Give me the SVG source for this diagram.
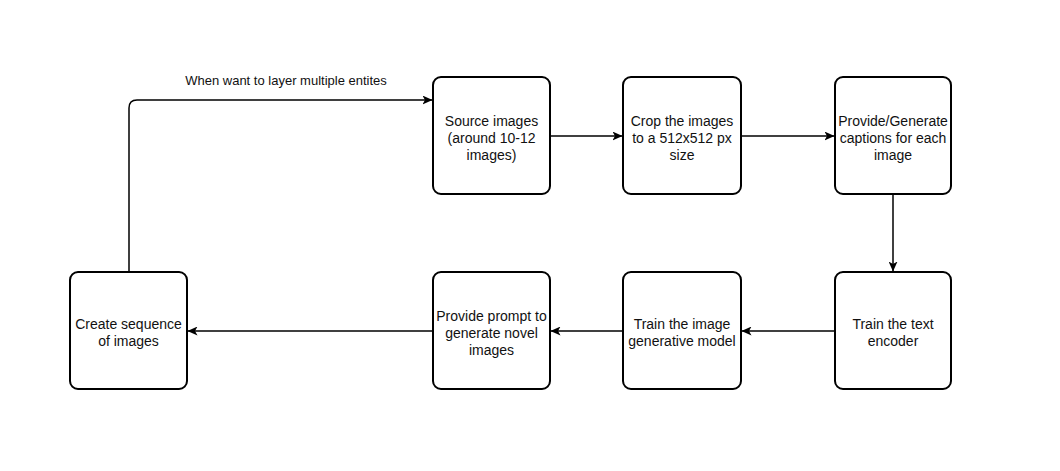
<svg xmlns="http://www.w3.org/2000/svg" width="1060" height="471" viewBox="0 0 1060 471">
<defs>
<marker id="arr" viewBox="0 0 10 9" refX="9.5" refY="4.5" markerWidth="10" markerHeight="9" markerUnits="userSpaceOnUse" orient="auto">
<path d="M0,0 L10,4.5 L0,9 L2.5,4.5 Z" fill="#000"/>
</marker>
<style>
.box{fill:#fff;stroke:#000;stroke-width:2}
.t{font-family:"Liberation Sans",Arial,sans-serif;font-size:14px;fill:#111;text-anchor:middle}
.lbl{font-family:"Liberation Sans",Arial,sans-serif;font-size:13px;fill:#111;text-anchor:middle}
.c{fill:none;stroke:#000;stroke-width:1.5;marker-end:url(#arr)}
</style>
</defs>
<rect width="1060" height="471" fill="#fff"/>
<g id="connectors">
<path class="c" d="M550,136 L622,136"/>
<path class="c" d="M741,136 L834,136"/>
<path class="c" d="M893,195 L893,271"/>
<path class="c" d="M835,331 L742,331"/>
<path class="c" d="M623,331 L551,331"/>
<path class="c" d="M433,331 L188,331"/>
<path class="c" d="M129,272 L129,108 Q129,100 137,100 L432,100"/>
<text class="lbl" x="286" y="85">When want to layer multiple entites</text>
</g>
<g id="n1"><rect class="box" x="433" y="77" width="117" height="117" rx="8"/>
<text class="t" x="491.5" y="126">Source images</text><text class="t" x="491.5" y="143">(around 10-12</text><text class="t" x="491.5" y="160">images)</text></g>
<g id="n2"><rect class="box" x="623" y="77" width="118" height="117" rx="8"/>
<text class="t" x="682" y="126">Crop the images</text><text class="t" x="682" y="143">to a 512x512 px</text><text class="t" x="682" y="160">size</text></g>
<g id="n3"><rect class="box" x="835" y="77" width="116" height="117" rx="8"/>
<text class="t" x="893" y="126">Provide/Generate</text><text class="t" x="893" y="143">captions for each</text><text class="t" x="893" y="160">image</text></g>
<g id="n4"><rect class="box" x="835" y="272" width="116" height="117" rx="8"/>
<text class="t" x="893" y="329">Train the text</text><text class="t" x="893" y="346">encoder</text></g>
<g id="n5"><rect class="box" x="623" y="272" width="118" height="117" rx="8"/>
<text class="t" x="682" y="329">Train the image</text><text class="t" x="682" y="346">generative model</text></g>
<g id="n6"><rect class="box" x="433" y="272" width="117" height="117" rx="8"/>
<text class="t" x="491.5" y="321">Provide prompt to</text><text class="t" x="491.5" y="338">generate novel</text><text class="t" x="491.5" y="355">images</text></g>
<g id="n7"><rect class="box" x="70" y="272" width="117" height="117" rx="8"/>
<text class="t" x="128.5" y="329">Create sequence</text><text class="t" x="128.5" y="346">of images</text></g>
</svg>
